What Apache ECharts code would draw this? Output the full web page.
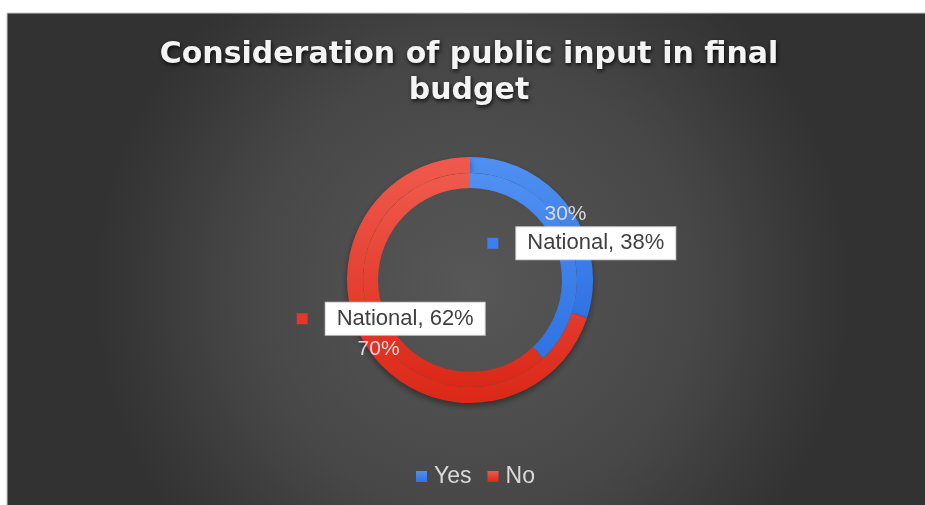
<!DOCTYPE html>
<html>
<head>
<meta charset="utf-8">
<script src="https://cdn.jsdelivr.net/npm/echarts@6/dist/echarts.min.js"></script>
<style>
  html, body { margin: 0; padding: 0; background: #ffffff; }
  #chart { width: 925px; height: 505px; }
</style>
</head>
<body>
<div id="chart"></div>
<script>
// Survey answers: share of respondents who think public input is considered
const categories = ['Yes', 'No'];
const outerValues = [30, 70];        // outer ring
const innerValues = [38, 62];        // inner ring ("National")
const innerLabelName = 'National';

const titleText = 'Consideration of public input in final\nbudget';

const blueGrad = new echarts.graphic.LinearGradient(0, 0, 0, 1, [
  { offset: 0, color: '#5090f2' },
  { offset: 1, color: '#2f72e2' }
]);
const redGrad = new echarts.graphic.LinearGradient(0, 0, 0, 1, [
  { offset: 0, color: '#ef5a4c' },
  { offset: 1, color: '#db2818' }
]);
const sliceColors = [blueGrad, redGrad];
const keyColors = ['#3b7ff0', '#e8352a'];
// small nudges for the outer ring's percentage labels
const outerLabelNudge = [[0, 4], [4, 0]];

const CENTER = [470, 280];
const OUTER_R = [107, 123];
const INNER_R = [92, 107];

const chart = echarts.init(document.getElementById('chart'), null, { renderer: 'canvas' });

function ringData(values, colors, nudges) {
  return values.map((v, i) => {
    const item = {
      name: categories[i],
      value: v,
      itemStyle: { color: colors ? colors[i] : 'rgba(0,0,0,0)' }
    };
    if (nudges) item.label = { offset: nudges[i] };
    return item;
  });
}

const ringBase = {
  type: 'pie',
  center: CENTER,
  startAngle: 90,
  clockwise: true,
  silent: true,
  labelLine: { show: false }
};

const option = {
  backgroundColor: 'transparent',
  animation: false,
  graphic: [{
    type: 'rect',
    z: -10,
    silent: true,
    shape: { x: 7, y: 13, width: 930, height: 500 },
    style: {
      fill: new echarts.graphic.RadialGradient(0.5, 0.55, 0.75, [
        { offset: 0, color: '#575757' },
        { offset: 0.6, color: '#474747' },
        { offset: 1, color: '#323232' }
      ]),
      stroke: '#c8c8c8',
      lineWidth: 1
    }
  }],
  title: {
    text: titleText,
    left: 464,
    top: 32,
    textAlign: 'center',
    textStyle: {
      fontFamily: 'DejaVu Sans',
      fontWeight: 'bold',
      fontSize: 30,
      lineHeight: 36,
      color: '#f4f4f4',
      textShadowColor: 'rgba(0,0,0,0.85)',
      textShadowBlur: 4,
      textShadowOffsetX: 1,
      textShadowOffsetY: 2
    }
  },
  legend: {
    data: categories,
    bottom: 12,
    left: 411,
    icon: 'rect',
    itemWidth: 11,
    itemHeight: 11,
    itemGap: 16,
    textStyle: {
      fontFamily: 'Liberation Sans',
      fontSize: 23,
      color: '#d9d9d9',
      padding: [0, 0, 0, 2]
    }
  },
  series: [
    // rings
    Object.assign({}, ringBase, {
      name: 'Outer',
      radius: OUTER_R,
      z: 2,
      itemStyle: {
        shadowBlur: 6,
        shadowColor: 'rgba(0,0,0,0.4)',
        shadowOffsetY: 3
      },
      label: { show: false },
      data: ringData(outerValues, sliceColors)
    }),
    Object.assign({}, ringBase, {
      name: 'Inner',
      radius: INNER_R,
      z: 3,
      label: { show: false },
      data: ringData(innerValues, sliceColors)
    }),
    // labels, drawn above both rings
    Object.assign({}, ringBase, {
      name: 'Outer labels',
      radius: OUTER_R,
      z: 5,
      label: {
        show: true,
        position: 'inside',
        formatter: p => p.value + '%',
        fontFamily: 'Liberation Sans',
        fontSize: 21,
        color: '#d9d9d9'
      },
      data: ringData(outerValues, null, outerLabelNudge)
    }),
    Object.assign({}, ringBase, {
      name: 'Inner labels',
      radius: INNER_R,
      z: 6,
      label: {
        show: true,
        position: 'inside',
        offset: [16, 1],
        formatter: p => '{k' + p.dataIndex + '|}{gap|}{box|' + innerLabelName + ', ' + p.value + '%}',
        rich: {
          k0: { width: 11, height: 11, backgroundColor: keyColors[0] },
          k1: { width: 11, height: 11, backgroundColor: keyColors[1] },
          gap: { width: 18 },
          box: {
            fontFamily: 'Liberation Sans',
            fontSize: 22,
            color: '#404040',
            backgroundColor: '#ffffff',
            borderColor: '#cfcfcf',
            borderWidth: 1,
            padding: [5, 11, 5, 11],
            lineHeight: 24
          }
        }
      },
      data: ringData(innerValues, null)
    })
  ]
};

chart.setOption(option);
</script>
</body>
</html>
